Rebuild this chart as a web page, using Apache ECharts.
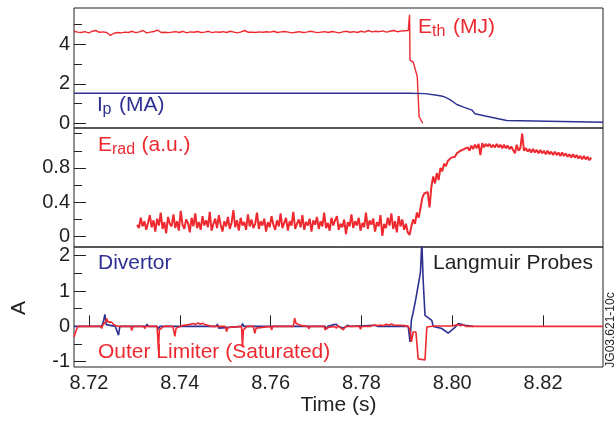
<!DOCTYPE html>
<html><head><meta charset="utf-8">
<script src="https://cdn.jsdelivr.net/npm/echarts@6/dist/echarts.min.js"></script>
<style>html,body{margin:0;padding:0;background:#fff}#c{width:616px;height:424px}</style>
</head><body><div id="c"></div>
<script>
// ---------- data ----------
const xMin = 8.7167, xMax = 8.8332;
const xTicks = [8.72, 8.74, 8.76, 8.78, 8.80, 8.82];
const y1Ticks = [0, 2, 4], y1Minor = [1, 3, 5];
const y2Ticks = [0, 0.4, 0.8], y2Minor = [0.2, 0.6, 1.0, 1.2];
const y3Ticks = [-1, 0, 1, 2], y3Minor = [-0.5, 0.5, 1.5];

// Eth (MJ): sampled trace before the collapse
const ethStart = 8.7167, ethStep = 0.0008;
const ethNoise = [
  4.66,4.62,4.60,4.64,4.58,4.66,4.70,4.61,4.63,4.60,
  4.45,4.56,4.60,4.58,4.62,4.60,4.66,4.59,4.63,4.70,
  4.58,4.62,4.65,4.72,4.60,4.61,4.59,4.62,4.64,4.60,
  4.66,4.58,4.63,4.61,4.65,4.60,4.62,4.66,4.59,4.63,
  4.61,4.64,4.60,4.66,4.62,4.58,4.63,4.70,4.61,4.62,
  4.60,4.63,4.61,4.64,4.62,4.66,4.60,4.63,4.65,4.62,
  4.58,4.61,4.64,4.60,4.62,4.66,4.63,4.59,4.62,4.64,
  4.60,4.65,4.62,4.58,4.63,4.66,4.61,4.64,4.60,4.66,
  4.62,4.70,4.63,4.66,4.64,4.68,4.62,4.66,4.70,4.64,
  4.67,4.69,4.70
];
const ethDrop = [[8.7905,4.70],[8.7906,5.50],[8.7907,3.20],[8.7914,3.10],[8.7918,3.04],[8.7920,2.61],[8.7923,2.36],[8.7927,0.34],[8.7935,0.00]];

// Ip (MA)
const ipTrace = [[8.7167,1.52],[8.7905,1.52],[8.7940,1.50],[8.7966,1.42],[8.7976,1.38],[8.7979,1.41],[8.7983,1.34],[8.7995,1.20],[8.8010,0.95],[8.8025,0.82],[8.8039,0.70],[8.8044,0.66],[8.8050,0.48],[8.8083,0.32],[8.8120,0.14],[8.8332,0.05]];

// Erad (a.u.)
const eradStart = 8.7306, eradStep = 0.0004;
const eradBase = [
  0.14,0.10,0.22,0.12,0.18,0.08,0.16,0.25,0.11,0.19,
  0.06,0.21,0.13,0.28,0.09,0.17,0.04,0.23,0.15,0.12,
  0.26,0.10,0.18,0.07,0.30,0.14,0.09,0.20,0.16,0.05,
  0.22,0.12,0.27,0.10,0.17,0.08,0.24,0.13,0.19,0.11,
  0.29,0.07,0.15,0.21,0.10,0.25,0.14,0.06,0.18,0.12,
  0.23,0.09,0.16,0.31,0.11,0.19,0.07,0.22,0.13,0.17,
  0.08,0.26,0.12,0.20,0.10,0.15,0.28,0.09,0.18,0.13,
  0.21,0.06,0.17,0.11,0.24,0.14,0.08,0.19,0.12,0.27,
  0.10,0.16,0.22,0.07,0.18,0.13,0.29,0.09,0.15,0.20,
  0.11,0.25,0.08,0.17,0.13,0.21,0.06,0.19,0.14,0.23,
  0.09,0.18,0.12,0.28,0.10,0.16,0.07,0.22,0.13,0.19,
  0.24,0.08,0.15,0.11,0.20,0.03,0.17,0.12,0.26,0.10,
  0.18,0.13,0.22,0.07,0.16,0.11,0.28,0.09,0.19,0.14,
  0.21,0.06,0.17,0.12,0.25,0.01,0.15,0.10,0.22,0.13,
  0.27,0.09,0.18,0.05,0.24,0.12,0.20,0.08,0.15,0.05,
  0.02
];
const eradRiseStart = 8.7910;
const eradRise = [
  0.12,0.20,0.15,0.28,0.22,0.33,0.45,0.50,0.48,0.52,
  0.34,0.58,0.70,0.62,0.74,0.66,0.80,0.76,0.85,0.82,
  0.88,0.86,0.92,0.94,0.93,0.97,0.98,1.00,0.99,1.02,
  1.01,1.04,1.00,1.06,1.02,1.07,1.03,1.08,0.95,1.09,
  1.04,1.08,1.05,1.08,1.04,1.07,1.04,1.08,1.04,1.07,
  1.03,1.07,1.03,1.06,1.02,1.05,1.01,0.97,1.07,1.00,
  1.03,1.20,1.00,1.03,0.99,1.02,0.98,1.02,0.98,1.01,
  0.97,1.01,0.97,1.00,0.96,1.00,0.96,0.99,0.95,0.99,
  0.95,0.98,0.94,0.98,0.94,0.97,0.93,0.96,0.92,0.96,
  0.92,0.95,0.91,0.94,0.90,0.94,0.90,0.93,0.89,0.92
];

// Langmuir probes (A)
const divertor = [[8.7167,0],[8.7228,0],[8.7232,0.15],[8.7235,0.34],[8.7238,0.05],[8.7242,0.02],[8.7258,0],[8.7262,-0.05],[8.7265,-0.25],[8.7268,0],[8.7325,0],[8.7328,0.06],[8.7331,0],[8.7350,0],[8.7353,-0.08],[8.7356,0],[8.7385,0],[8.7388,0.05],[8.7392,0],[8.7480,0],[8.7483,0.06],[8.7486,-0.05],[8.7489,0],[8.7536,0],[8.7538,0.08],[8.7541,0],[8.7560,0],[8.7563,0.04],[8.7566,0],[8.7720,0],[8.7723,-0.08],[8.7726,0],[8.7740,0.05],[8.7745,0.06],[8.7748,0],[8.7760,-0.05],[8.7770,0.03],[8.7775,0],[8.7830,0.03],[8.7835,0],[8.7903,0],[8.7907,-0.44],[8.7910,0.17],[8.7914,0.40],[8.7917,0.45],[8.7920,0.79],[8.7923,1.02],[8.7927,1.30],[8.7930,1.54],[8.7933,2.40],[8.7936,1.30],[8.7940,0.31],[8.7955,0.17],[8.7958,0.00],[8.7977,-0.06],[8.7991,-0.19],[8.8006,-0.03],[8.8013,0.08],[8.8020,0.06],[8.8028,0.03],[8.8046,0.00]];
const limiter = [[8.7167,-0.30],[8.7172,-0.10],[8.7176,0],[8.7185,0],[8.7187,-0.05],[8.7189,0],[8.7200,0],[8.7202,-0.04],[8.7204,0],[8.7226,0],[8.7228,-0.06],[8.7231,0.05],[8.7236,0.12],[8.7239,0.22],[8.7242,0.12],[8.7246,0.10],[8.7250,0.12],[8.7254,0.05],[8.7260,0.02],[8.7266,0],[8.7292,0],[8.7294,-0.12],[8.7297,0],[8.7320,0],[8.7323,-0.06],[8.7325,0],[8.7350,0],[8.7353,-0.68],[8.7355,-0.10],[8.7360,-0.05],[8.7365,0],[8.7385,0],[8.7389,-0.28],[8.7392,-0.05],[8.7396,0],[8.7405,0.02],[8.7420,0.05],[8.7430,0.08],[8.7435,0.05],[8.7440,0.10],[8.7445,0.06],[8.7450,0.09],[8.7455,0.05],[8.7462,0.03],[8.7468,0],[8.7500,0],[8.7503,-0.15],[8.7506,-0.03],[8.7510,0],[8.7536,0],[8.7538,-0.59],[8.7540,-0.10],[8.7543,-0.05],[8.7548,0],[8.7562,0],[8.7565,-0.20],[8.7568,-0.05],[8.7572,0],[8.7600,0],[8.7602,-0.10],[8.7605,0],[8.7650,0],[8.7653,0.23],[8.7656,0.08],[8.7662,0.05],[8.7668,0.02],[8.7672,0],[8.7682,0],[8.7684,-0.07],[8.7687,0],[8.7718,0],[8.7720,-0.10],[8.7724,-0.04],[8.7728,0],[8.7740,0],[8.7745,-0.05],[8.7748,0.02],[8.7755,-0.05],[8.7760,-0.10],[8.7764,-0.02],[8.7770,0],[8.7795,0],[8.7798,-0.08],[8.7801,0],[8.7820,0],[8.7828,0.04],[8.7832,0.06],[8.7836,0.02],[8.7842,0.04],[8.7848,0.02],[8.7855,0.06],[8.7860,0.03],[8.7866,0.07],[8.7872,0.03],[8.7880,0.03],[8.7895,0.02],[8.7903,0],[8.7907,-0.11],[8.7910,-0.44],[8.7914,-0.16],[8.7920,-0.16],[8.7925,-0.92],[8.7929,-0.95],[8.7940,-0.95],[8.7944,-0.02],[8.7960,0.01],[8.8000,0.01],[8.8013,0.05],[8.8018,0.02],[8.8024,0.04],[8.8030,0],[8.8332,0]];

// ---------- build ----------
const RED = '#ee2a30', BLUE = '#2e3192', INK = '#231f20';
const FF = 'Liberation Sans, Arial, Helvetica, sans-serif';
const sampled = (start, step, vals) => vals.map((v, i) => [+(start + i * step).toFixed(5), v]);
const ethData = sampled(ethStart, ethStep, ethNoise).concat(ethDrop);
const eradData = sampled(eradStart, eradStep, eradBase).concat(sampled(eradRiseStart, eradStep, eradRise));

const grids = [
  {left: 74, top: 8, width: 529, height: 120},
  {left: 74, top: 128, width: 529, height: 119},
  {left: 74, top: 247, width: 529, height: 120}
].map(g => Object.assign(g, {show: true, borderColor: INK, borderWidth: 1, backgroundColor: 'transparent'}));

function xAx(i, showLab) {
  const a = {type: 'value', gridIndex: i, min: xMin, max: xMax, splitLine: {show: false}, axisLine: {show: false}};
  if (!showLab) { a.axisTick = {show: false}; a.axisLabel = {show: false}; return a; }
  a.axisTick = {show: true, inside: true, length: 11, customValues: xTicks, lineStyle: {color: INK, width: 1}};
  a.axisLabel = {show: true, customValues: xTicks, fontSize: 20, fontFamily: FF, color: INK, margin: 6, formatter: v => v.toFixed(2)};
  a.name = 'Time (s)'; a.nameLocation = 'middle'; a.nameGap = 28;
  a.nameTextStyle = {fontSize: 21, fontFamily: FF, color: INK};
  return a;
}
function yAx(i, min, max, ticks, major) {
  const a = {type: 'value', gridIndex: i, min, max, position: 'left', splitLine: {show: false}, axisLine: {show: false}};
  a.axisTick = {show: true, inside: true, length: major ? 12 : 8, customValues: ticks, lineStyle: {color: INK, width: 1}};
  a.axisLabel = major ? {show: true, customValues: ticks, fontSize: 20, fontFamily: FF, color: INK, margin: 4}
                      : {show: false};
  return a;
}
const yAxes = [
  yAx(0, -0.24, 5.84, y1Ticks, true), yAx(0, -0.24, 5.84, y1Minor, false),
  yAx(1, -0.12, 1.265, y2Ticks, true), yAx(1, -0.12, 1.265, y2Minor, false),
  yAx(2, -1.15, 2.246, y3Ticks, true), yAx(2, -1.15, 2.246, y3Minor, false)
];

function line(name, data, xi, yi, color, w) {
  return {name, type: 'line', data, xAxisIndex: xi, yAxisIndex: yi, showSymbol: false, symbol: 'none',
          clip: true, lineStyle: {color, width: w}, itemStyle: {color}, animation: false, silent: true};
}

function txt(x, y, text, size, color, rot) {
  return {type: 'text', x, y, rotation: rot || 0, z: 100,
    style: {text, fontSize: size, fontFamily: FF, fill: color,
            textAlign: 'left', textVerticalAlign: 'middle', align: 'left', verticalAlign: 'middle'}};
}
function ctxt(x, y, text, size, color, rot) {
  const t = txt(x, y, text, size, color, rot);
  t.style.textAlign = 'center'; t.style.align = 'center';
  return t;
}

const option = {
  animation: false,
  backgroundColor: '#fff',
  grid: grids,
  xAxis: [xAx(0, false), xAx(1, false), xAx(2, true)],
  yAxis: yAxes,
  series: [
    line('Eth', ethData, 0, 0, RED, 1.4),
    line('Ip', ipTrace, 0, 0, BLUE, 1.4),
    line('Erad', eradData, 1, 2, RED, 2),
    line('Divertor', divertor, 2, 4, BLUE, 1.6),
    line('Outer Limiter', limiter, 2, 4, RED, 1.6)
  ],
  graphic: [
    txt(418, 27, 'E', 21, RED), txt(432, 32, 'th', 16, RED), txt(453, 27, '(MJ)', 21, RED),
    txt(97, 105, 'I', 21, BLUE), txt(102.5, 110, 'p', 16, BLUE), txt(119, 105, '(MA)', 21, BLUE),
    txt(98, 145, 'E', 21, RED), txt(112, 150, 'rad', 16, RED), txt(141.5, 145, '(a.u.)', 21, RED),
    txt(98, 263.5, 'Divertor', 21, BLUE),
    txt(433, 263.5, 'Langmuir Probes', 21, INK),
    txt(98, 352.5, 'Outer Limiter (Saturated)', 21, RED),
    ctxt(19, 308, 'A', 21, INK, Math.PI / 2),
    ctxt(611, 330, 'JG03.621-10c', 12, INK, Math.PI / 2)
  ]
};
const chart = echarts.init(document.getElementById('c'), null, {renderer: 'canvas'});
chart.setOption(option);
</script></body></html>
